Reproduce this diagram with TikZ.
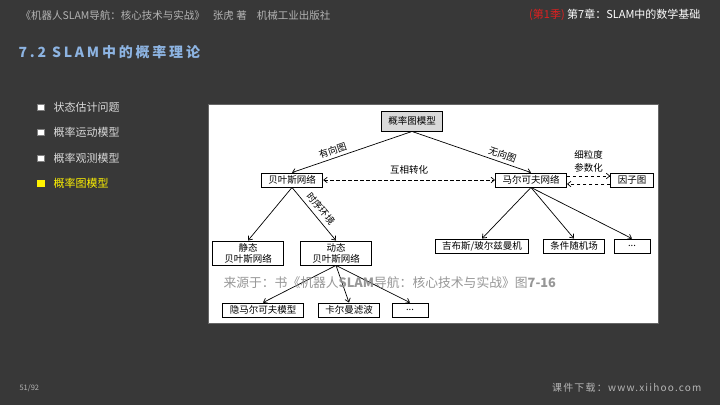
\documentclass[tikz,border=0pt]{standalone}
\usepackage{fontspec}
\setmainfont{Noto Sans CJK SC}
\newfontfamily\spacedfont[LetterSpace=20]{Noto Sans CJK SC}
\newfontfamily\footfont[LetterSpace=12]{Noto Sans CJK SC}
\usetikzlibrary{arrows.meta}
\definecolor{slidebg}{HTML}{383838}
\definecolor{headgray}{HTML}{B4B4B4}
\definecolor{titleblue}{HTML}{8DB4E2}
\definecolor{itemgray}{HTML}{DADADA}
\definecolor{seasonred}{HTML}{E02020}
\definecolor{rootfill}{HTML}{D9D9D9}
\definecolor{sourcegray}{HTML}{8C8C8C}

\begin{document}
\begin{tikzpicture}[x=1pt,y=-1pt,>={Straight Barb[length=3.5pt,width=5.5pt]},
  model node/.style={rectangle,draw,line width=0.9pt,fill=white,
    font=\fontsize{9.5}{11}\selectfont,inner xsep=7pt,inner ysep=0pt,minimum height=14pt},
  root node/.style={model node,fill=rootfill,minimum height=20pt},
  double node/.style={model node,align=center,minimum height=24pt,minimum width=71pt},
  dots node/.style={model node,minimum width=36pt},
  edge label/.style={font=\fontsize{9.5}{13}\selectfont,inner sep=1pt},
  item text/.style={anchor=west,text=itemgray,font=\fontsize{11}{13}\selectfont},
  item mark/.style={rectangle,fill=white,draw=gray,line width=0.4pt,
    minimum size=6.5pt,inner sep=0pt}]

  \useasboundingbox (0,0) rectangle (720,405);
  \fill[slidebg] (0,0) rectangle (720,405);

  % header and title
  \node[anchor=west,text=headgray,font=\fontsize{10.5}{12}\selectfont] (book) at (17,15)
    {《机器人SLAM导航：核心技术与实战》\hspace{8pt}张虎 著\hspace{10pt}机械工业出版社};
  \node[anchor=east,text=white,font=\fontsize{11}{13}\selectfont] (chapter) at (704,15)
    {\textcolor{seasonred}{(第1季)} 第7章：SLAM中的数学基础};
  \node[anchor=west,text=titleblue,font=\spacedfont\bfseries\fontsize{14}{16}\selectfont] (title) at (15,52)
    {7.2 SLAM中的概率理论};

  % list on the left
  \node[item mark] (m1) at (40.5,107) {};
  \node[item text] (t1) at (50,107) {状态估计问题};
  \node[item mark] (m2) at (40.5,132) {};
  \node[item text] (t2) at (50,132) {概率运动模型};
  \node[item mark] (m3) at (40.5,158) {};
  \node[item text] (t3) at (50,158) {概率观测模型};
  \node[item mark,fill=yellow,draw=yellow] (m4) at (40.5,183) {};
  \node[item text,text=yellow] (t4) at (50,183) {概率图模型};

  % figure panel
  \draw[fill=white,draw=black!60,line width=0.5pt] (208,104) rectangle (658,323);

  \node[root node] (pgm) at (412,121) {概率图模型};
  \node[model node] (bn) at (292,180) {贝叶斯网络};
  \node[model node] (mn) at (531,180) {马尔可夫网络};
  \node[model node] (fg) at (632,180) {因子图};
  \node[double node] (sbn) at (248,253) {静态\\贝叶斯网络};
  \node[double node] (dbn) at (336,253) {动态\\贝叶斯网络};
  \node[model node] (gbm) at (482,246) {吉布斯/玻尔兹曼机};
  \node[model node] (crf) at (574,246) {条件随机场};
  \node[dots node] (mdots) at (632,246) {...};
  \node[model node] (hmm) at (263,310) {隐马尔可夫模型};
  \node[model node] (kf) at (349,310) {卡尔曼滤波};
  \node[dots node] (ddots) at (410,310) {...};

  \path[->,line width=0.7pt]
  (pgm.south) edge node[edge label,pos=0.64,above=2pt,sloped] {有向图} (bn.north)
  (pgm.south) edge node[edge label,pos=0.74,above=2pt,sloped] {无向图} (mn.north)
  (bn.south) edge (sbn.north)
  (bn.south) edge node[edge label,pos=0.5,above=3pt,sloped] {时序环境} (dbn.north)
  (mn.south) edge (gbm.north)
  (mn.south) edge (crf.north)
  (mn.south) edge (mdots.north)
  (dbn.south) edge (hmm.north)
  (dbn.south) edge (kf.north)
  (dbn.south) edge (ddots.north);

  \path[->,line width=0.7pt,dash pattern=on 3.5pt off 2.5pt]
  (bn.east) edge[<->] node[edge label,above=4pt] {互相转化} (mn.west)
  ([yshift=4pt]mn.east) edge node[edge label,above=2pt,align=center] {细粒度\\参数化} ([yshift=4pt]fg.west)
  ([yshift=-4pt]fg.west) edge ([yshift=-4pt]mn.east);

  % source note over the figure
  \node[anchor=west,text=sourcegray,opacity=0.9,font=\fontsize{12.8}{15}\selectfont] (source) at (220,283)
    {来源于：书《机器人\textbf{SLAM}导航：核心技术与实战》图\textbf{7-16}};

  % footer
  \node[anchor=west,text=headgray,font=\fontsize{7.5}{9}\selectfont] (page) at (16,388) {51/92};
  \node[anchor=east,text=headgray,font=\footfont\fontsize{10}{12}\selectfont] (site) at (705,388)
    {课件下载：www.xiihoo.com};

\end{tikzpicture}
\end{document}
